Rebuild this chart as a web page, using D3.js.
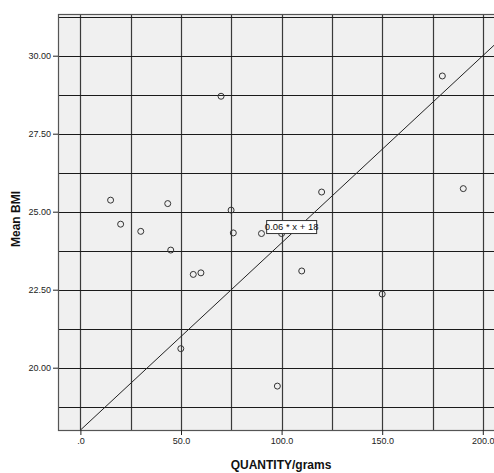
<!DOCTYPE html>
<html>
<head>
<meta charset="utf-8">
<script src="https://cdn.jsdelivr.net/npm/d3@7"></script>
<style>
  body { margin: 0; background: #fff; }
  svg { display: block; font-family: Arial, "Liberation Sans", sans-serif; }
</style>
</head>
<body>
<div id="chart"></div>
<script>
// data
const quantity = [15, 43.4, 20, 30, 44.9, 56.1, 59.9, 69.9, 74.9, 76, 90, 100, 49.9, 97.9, 110, 119.9, 150, 179.9, 190.3];
const meanBMI  = [25.37, 25.26, 24.6, 24.37, 23.77, 22.99, 23.04, 28.7, 25.05, 24.32, 24.3, 24.3, 20.61, 19.41, 23.1, 25.63, 22.36, 29.35, 25.74];
const xTicks = [0, 50, 100, 150, 200];
const yTicks = [20, 22.5, 25, 27.5, 30];
const xGrid = [0, 25, 50, 75, 100, 125, 150, 175, 200, 225];
const yGrid = [18.75, 20, 21.25, 22.5, 23.75, 25, 26.25, 27.5, 28.75, 30, 31.25];
const fit = { slope: 0.06, intercept: 18, label: "0.06 * x + 18", labelX: 105 };

const W = 494, H = 473;
const frame = { left: 58, top: 14, right: 500, bottom: 430 };

const x = d3.scaleLinear().domain([0, 200]).range([80.4, 482.8]);
const y = d3.scaleLinear().domain([20, 30]).range([367.7, 55.7]);

const svg = d3.select("#chart").append("svg")
  .attr("width", W)
  .attr("height", H);

svg.append("defs").append("clipPath").attr("id", "clip")
  .append("rect")
  .attr("x", frame.left).attr("y", frame.top)
  .attr("width", frame.right - frame.left)
  .attr("height", frame.bottom - frame.top);

// plot background
svg.append("rect")
  .attr("x", frame.left).attr("y", frame.top)
  .attr("width", frame.right - frame.left)
  .attr("height", frame.bottom - frame.top)
  .attr("fill", "#f0f0f0");

const plot = svg.append("g").attr("clip-path", "url(#clip)");

// grid
plot.append("g").selectAll("line")
  .data(xGrid)
  .join("line")
    .attr("x1", d => Math.round(x(d)) + 0.5).attr("x2", d => Math.round(x(d)) + 0.5)
    .attr("y1", frame.top).attr("y2", frame.bottom)
    .attr("stroke", "#3a3a3a").attr("stroke-width", 1.2);

plot.append("g").selectAll("line")
  .data(yGrid)
  .join("line")
    .attr("y1", d => Math.round(y(d)) + 0.5).attr("y2", d => Math.round(y(d)) + 0.5)
    .attr("x1", frame.left).attr("x2", frame.right)
    .attr("stroke", "#1a1a1a").attr("stroke-width", 1.2);

// fit line
const xEnd = x.invert(frame.right);
plot.append("line")
  .attr("x1", x(0)).attr("y1", y(fit.intercept))
  .attr("x2", x(xEnd)).attr("y2", y(fit.intercept + fit.slope * xEnd))
  .attr("stroke", "#222").attr("stroke-width", 1);

// points
plot.append("g").selectAll("circle")
  .data(quantity.map((q, i) => [q, meanBMI[i]]))
  .join("circle")
    .attr("cx", d => x(d[0]))
    .attr("cy", d => y(d[1]))
    .attr("r", 3)
    .attr("fill", "none")
    .attr("stroke", "#333")
    .attr("stroke-width", 1);

// fit label
const lx = x(fit.labelX), ly = y(fit.intercept + fit.slope * fit.labelX) - 6.5;
const lab = svg.append("g").attr("transform", `translate(${lx},${ly})`);
lab.append("rect")
  .attr("x", -25).attr("y", -6.5).attr("width", 50).attr("height", 13)
  .attr("fill", "#fff").attr("stroke", "#333").attr("stroke-width", 1);
lab.append("text")
  .attr("text-anchor", "middle").attr("dy", "0.35em")
  .attr("font-size", 9.5).attr("fill", "#111")
  .text(fit.label);

// frame
svg.append("rect")
  .attr("x", frame.left + 0.5).attr("y", frame.top + 0.5)
  .attr("width", frame.right - frame.left)
  .attr("height", frame.bottom - frame.top)
  .attr("fill", "none").attr("stroke", "#555").attr("stroke-width", 1.2);

// axes
const xAxis = svg.append("g")
  .attr("transform", `translate(0,${frame.bottom})`)
  .call(d3.axisBottom(x).tickValues(xTicks).tickSize(5).tickPadding(3)
    .tickFormat(d => d === 0 ? ".0" : d3.format(".1f")(d)));
xAxis.select(".domain").remove();
xAxis.selectAll("line").attr("stroke", "#222");
xAxis.selectAll("text").attr("font-size", 9).attr("fill", "#222")
  .attr("font-family", "Arial, 'Liberation Sans', sans-serif");

const yAxis = svg.append("g")
  .attr("transform", `translate(${frame.left},0)`)
  .call(d3.axisLeft(y).tickValues(yTicks).tickSize(5).tickPadding(2)
    .tickFormat(d3.format(".2f")));
yAxis.select(".domain").remove();
yAxis.selectAll("line").attr("stroke", "#222");
yAxis.selectAll("text").attr("font-size", 9).attr("fill", "#222")
  .attr("font-family", "Arial, 'Liberation Sans', sans-serif");

// titles
svg.append("text")
  .attr("x", 281).attr("y", 469)
  .attr("text-anchor", "middle")
  .attr("font-size", 12).attr("font-weight", "bold").attr("fill", "#111")
  .text("QUANTITY/grams");

svg.append("text")
  .attr("transform", "translate(20,219) rotate(-90)")
  .attr("text-anchor", "middle")
  .attr("font-size", 12).attr("font-weight", "bold").attr("fill", "#111")
  .text("Mean BMI");
</script>
</body>
</html>
